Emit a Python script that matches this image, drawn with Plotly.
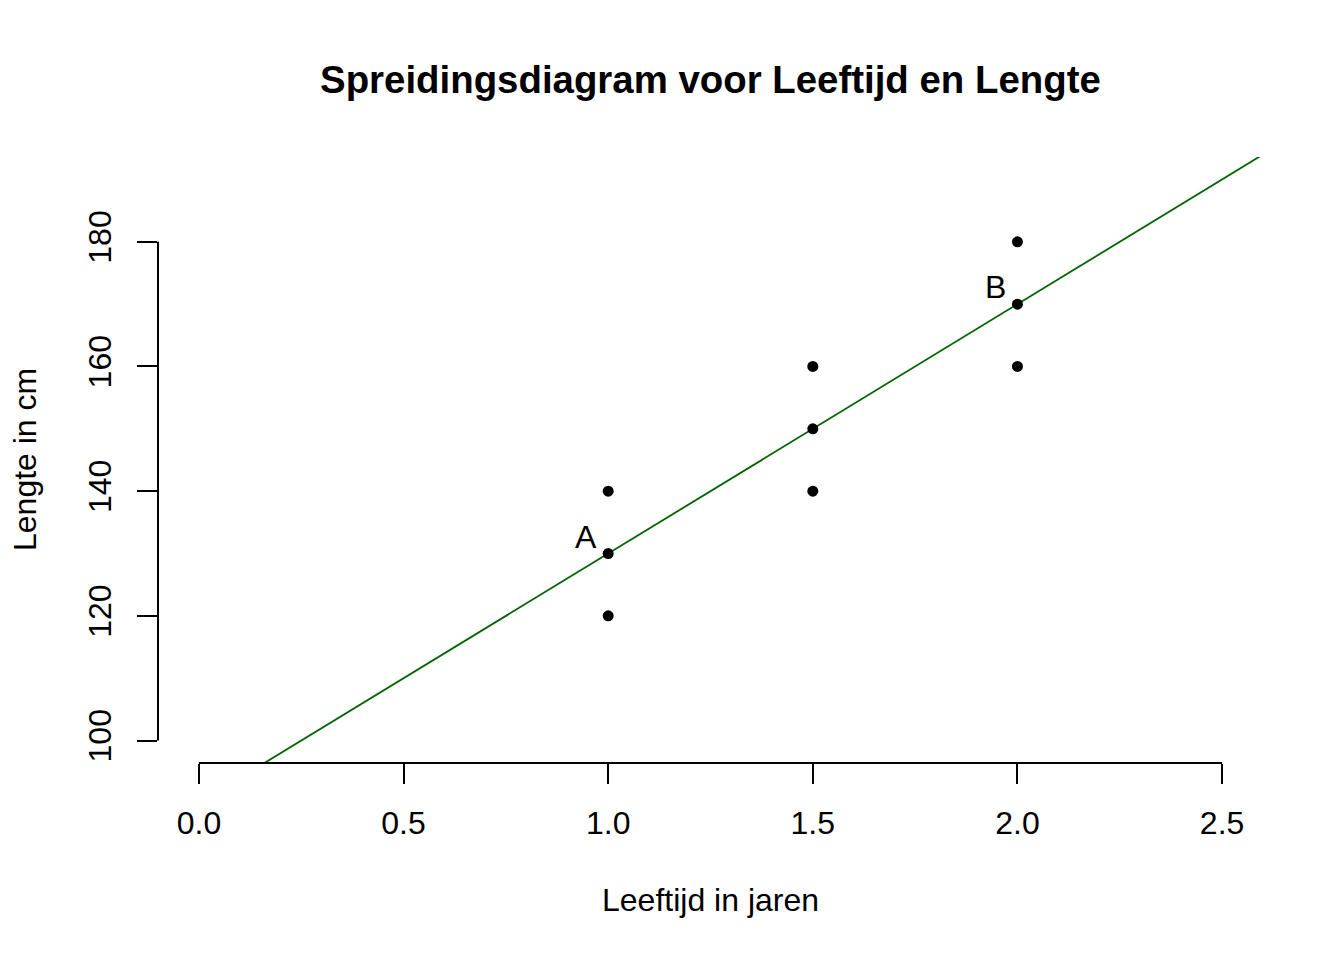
import numpy as np
import plotly.graph_objects as go

leeftijd = [1, 1, 1, 1.5, 1.5, 1.5, 2, 2, 2]
lengte = [120, 130, 140, 140, 150, 160, 160, 170, 180]
label_points = {"A": (1, 130), "B": (2, 170)}
x_ticks = [0.0, 0.5, 1.0, 1.5, 2.0, 2.5]
x_ticklabels = ["0.0", "0.5", "1.0", "1.5", "2.0", "2.5"]
y_ticks = [100, 120, 140, 160, 180]
y_ticklabels = ["100", "120", "140", "160", "180"]

x_range = [-0.1, 2.6]
y_range = [96.4, 193.6]

slope, intercept = np.polyfit(leeftijd, lengte, 1)
line_x = np.array(x_range)
line_y = intercept + slope * line_x

FONT = "Liberation Sans, Arial, sans-serif"
FS = 32

fig = go.Figure()
fig.add_trace(go.Scatter(x=line_x, y=line_y, mode="lines",
                         line=dict(color="#006400", width=1.8),
                         hoverinfo="skip", showlegend=False))
fig.add_trace(go.Scatter(x=leeftijd, y=lengte, mode="markers",
                         marker=dict(color="black", size=11),
                         showlegend=False))

for lab, (px, py) in label_points.items():
    fig.add_annotation(x=px, y=py, text=lab, showarrow=False,
                       xanchor="right", yanchor="middle",
                       xshift=-9, yshift=17,
                       font=dict(family=FONT, size=FS, color="black"))

# axis lines (R style, from first to last tick)
fig.add_shape(type="line", xref="x", yref="paper", x0=x_ticks[0], x1=x_ticks[-1],
              y0=0, y1=0, line=dict(color="black", width=2))
fig.add_shape(type="line", xref="paper", yref="y", x0=0, x1=0,
              y0=y_ticks[0], y1=y_ticks[-1], line=dict(color="black", width=2))

fig.update_layout(
    width=1344, height=960,
    margin=dict(l=158, r=81, t=157, b=196.5),
    plot_bgcolor="white", paper_bgcolor="white",
    font=dict(family=FONT, size=FS, color="black"),
    title=dict(text="<b>Spreidingsdiagram voor Leeftijd en Lengte</b>",
               x=0.5286, xanchor="center", y=1 - 80 / 960, yanchor="middle",
               font=dict(family=FONT, size=38.4, color="black")),
    xaxis=dict(range=x_range, tickmode="array", tickvals=x_ticks, ticktext=x_ticklabels,
               ticks="outside", ticklen=20, tickwidth=2, tickcolor="black",
               showgrid=False, zeroline=False, showline=False,
               ticklabelstandoff=12,
               tickfont=dict(family=FONT, size=FS, color="black")),
    yaxis=dict(range=y_range, tickmode="array", tickvals=y_ticks, ticktext=y_ticklabels,
               ticks="outside", ticklen=20, tickwidth=2, tickcolor="black",
               showgrid=False, zeroline=False, showline=False, tickangle=-90,
               ticklabelstandoff=13,
               tickfont=dict(family=FONT, size=FS, color="black")),
)

fig.add_annotation(text="Leeftijd in jaren", xref="paper", yref="paper",
                   x=0.5, y=-(901 - 763.5) / 606.5, xanchor="center", yanchor="middle",
                   showarrow=False, font=dict(family=FONT, size=FS, color="black"))
fig.add_annotation(text="Lengte in cm", xref="paper", yref="paper",
                   x=-(158 - 25) / 1105, y=0.5, xanchor="center", yanchor="middle",
                   textangle=-90, showarrow=False,
                   font=dict(family=FONT, size=FS, color="black"))

fig.write_html("out.html")
